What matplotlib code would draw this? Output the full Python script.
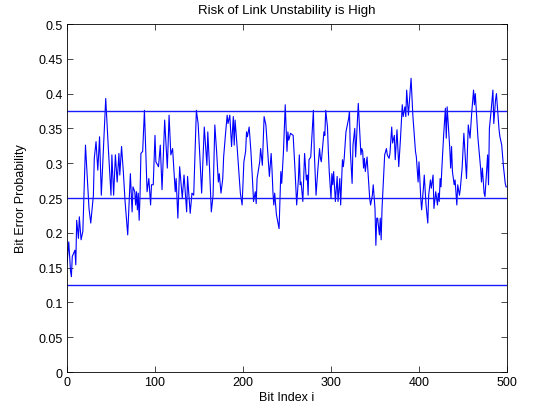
import matplotlib
matplotlib.use('Agg')
import matplotlib.pyplot as plt

# bit index / error probability
bits = [0, 2, 4, 5, 6, 9, 10, 11, 13, 14, 16, 18, 21, 25, 27, 30, 31, 33, 35, 37, 39,
        44, 47, 50, 51, 53, 55, 57, 59, 60, 62, 64, 66, 69, 71, 72, 74, 75, 77, 78, 79,
        80, 81, 82, 83, 84, 86, 88, 91, 93, 95, 96, 98, 100, 101, 104, 106, 108, 111,
        114, 116, 118, 120, 123, 124, 126, 128, 131, 133, 136, 137, 140, 142, 144, 147,
        149, 151, 153, 156, 159, 160, 162, 164, 166, 168, 170, 172, 173, 175, 177, 178,
        180, 182, 183, 185, 187, 189, 190, 191, 193, 195, 197, 199, 201, 203, 204, 205,
        207, 209, 211, 212, 214, 215, 216, 219, 220, 222, 224, 226, 228, 230, 232, 233,
        234, 235, 236, 238, 241, 243, 244, 246, 248, 250, 251, 252, 254, 257, 259, 261,
        263, 264, 265, 266, 268, 270, 272, 273, 274, 275, 277, 280, 281, 283, 285, 287,
        288, 289, 292, 293, 294, 296, 297, 298, 300, 301, 302, 303, 305, 307, 308, 310,
        311, 313, 314, 315, 317, 320, 321, 322, 324, 325, 327, 328, 331, 334, 335, 336,
        337, 338, 339, 341, 342, 344, 345, 347, 348, 350, 351, 352, 353, 355, 356, 357,
        358, 360, 361, 363, 364, 366, 367, 369, 370, 372, 373, 375, 377, 379, 381, 382,
        384, 385, 386, 388, 391, 393, 396, 397, 399, 400, 402, 403, 405, 406, 408, 410,
        411, 413, 414, 416, 417, 419, 421, 422, 423, 424, 425, 426, 428, 430, 431, 432,
        435, 436, 437, 438, 440, 441, 443, 444, 446, 447, 449, 451, 454, 456, 458, 460,
        462, 463, 464, 467, 470, 471, 472, 474, 475, 477, 478, 479, 480, 482, 484, 485,
        487, 488, 491, 492, 494, 496, 498, 499, 500]
error_prob = [0.155, 0.187, 0.145, 0.137, 0.166, 0.175, 0.154, 0.218, 0.192, 0.223, 0.190,
              0.202, 0.326, 0.235, 0.214, 0.254, 0.307, 0.331, 0.290, 0.338, 0.254,
              0.393, 0.321, 0.254, 0.312, 0.254, 0.312, 0.273, 0.314, 0.283, 0.324, 0.288,
              0.245, 0.197, 0.254, 0.285, 0.230, 0.266, 0.259, 0.240, 0.259,
              0.233, 0.257, 0.218, 0.254, 0.314, 0.317, 0.376, 0.259, 0.278, 0.240, 0.269,
              0.269, 0.340, 0.302, 0.295, 0.326, 0.262, 0.362,
              0.293, 0.369, 0.312, 0.321, 0.259, 0.278, 0.221, 0.295, 0.250, 0.283, 0.230,
              0.281, 0.228, 0.257, 0.254, 0.376,
              0.357, 0.309, 0.257, 0.352, 0.297, 0.345, 0.293, 0.230, 0.254, 0.355, 0.317,
              0.273, 0.285, 0.257, 0.278, 0.309,
              0.340, 0.369, 0.357, 0.369, 0.324, 0.367, 0.326, 0.362, 0.329, 0.293, 0.257,
              0.240, 0.302, 0.317, 0.345, 0.338,
              0.352, 0.317, 0.271, 0.245, 0.259, 0.242, 0.278, 0.302, 0.321, 0.297, 0.367,
              0.355, 0.317, 0.281, 0.314, 0.290,
              0.259, 0.240, 0.257, 0.226, 0.206, 0.288, 0.271, 0.317, 0.384, 0.317, 0.345,
              0.333, 0.343, 0.340, 0.293, 0.240,
              0.278, 0.312, 0.269, 0.273, 0.245, 0.314, 0.276, 0.283, 0.254, 0.305, 0.309,
              0.376, 0.317, 0.254, 0.290, 0.321,
              0.307, 0.302, 0.345, 0.340, 0.376, 0.352, 0.317, 0.288, 0.250, 0.285, 0.269,
              0.288, 0.245, 0.281, 0.245, 0.278,
              0.240, 0.305, 0.295, 0.307, 0.345, 0.364, 0.374, 0.317, 0.271, 0.326, 0.350,
              0.309, 0.386, 0.312, 0.321, 0.317,
              0.293, 0.307, 0.288, 0.309, 0.288, 0.249, 0.240, 0.254, 0.269, 0.235, 0.182,
              0.221, 0.221, 0.197, 0.221, 0.190,
              0.235, 0.288, 0.312, 0.321, 0.312, 0.307, 0.314, 0.352, 0.329, 0.340, 0.305,
              0.348, 0.295, 0.336, 0.384, 0.367,
              0.381, 0.367, 0.405, 0.369, 0.422, 0.369, 0.317, 0.309, 0.273, 0.302, 0.250,
              0.233, 0.264, 0.283, 0.240, 0.214,
              0.254, 0.276, 0.264, 0.283, 0.235, 0.259, 0.240, 0.257, 0.245, 0.278, 0.266,
              0.293, 0.340, 0.379, 0.336, 0.381,
              0.321, 0.293, 0.324, 0.288, 0.269, 0.276, 0.240, 0.269, 0.254, 0.264, 0.293,
              0.343, 0.278, 0.355, 0.336, 0.374,
              0.405, 0.384, 0.400, 0.336, 0.293, 0.273, 0.293, 0.257, 0.252, 0.293, 0.312,
              0.269, 0.350, 0.376, 0.405, 0.357,
              0.391, 0.400, 0.348, 0.338, 0.326, 0.295, 0.271, 0.266, 0.266]

levels = [0.125, 0.25, 0.375]
xticks = [0, 100, 200, 300, 400, 500]
yticks = [0, 0.05, 0.1, 0.15, 0.2, 0.25, 0.3, 0.35, 0.4, 0.45, 0.5]
ylabels = ['0', '0.05', '0.1', '0.15', '0.2', '0.25', '0.3', '0.35', '0.4', '0.45', '0.5']

plt.rcParams['font.family'] = ['Liberation Sans', 'DejaVu Sans']
plt.rcParams['font.size'] = 9

fig = plt.figure(figsize=(5.33, 4.14), dpi=100)
ax = fig.add_axes([0.1257, 0.099, 0.8255, 0.8406])

ax.plot(bits, error_prob, color='#0000ff', lw=0.8)
# threshold lines
for lv in levels:
    ax.axhline(lv, color='#1a1aff', lw=1.0)

ax.set_xlim(0, 500)
ax.set_ylim(0, 0.5)
ax.set_xticks(xticks)
ax.set_yticks(yticks)
ax.set_yticklabels(ylabels)
ax.tick_params(direction='in', top=True, right=True, length=4, width=0.5, pad=3)
for s in ax.spines.values():
    s.set_linewidth(0.6)

ax.set_xlabel('Bit Index i', labelpad=2)
ax.set_ylabel('Bit Error Probability', labelpad=8)
ax.set_title('Risk of Link Unstability is High', fontsize=9.5, pad=8)

fig.savefig('out.png', dpi=100)
